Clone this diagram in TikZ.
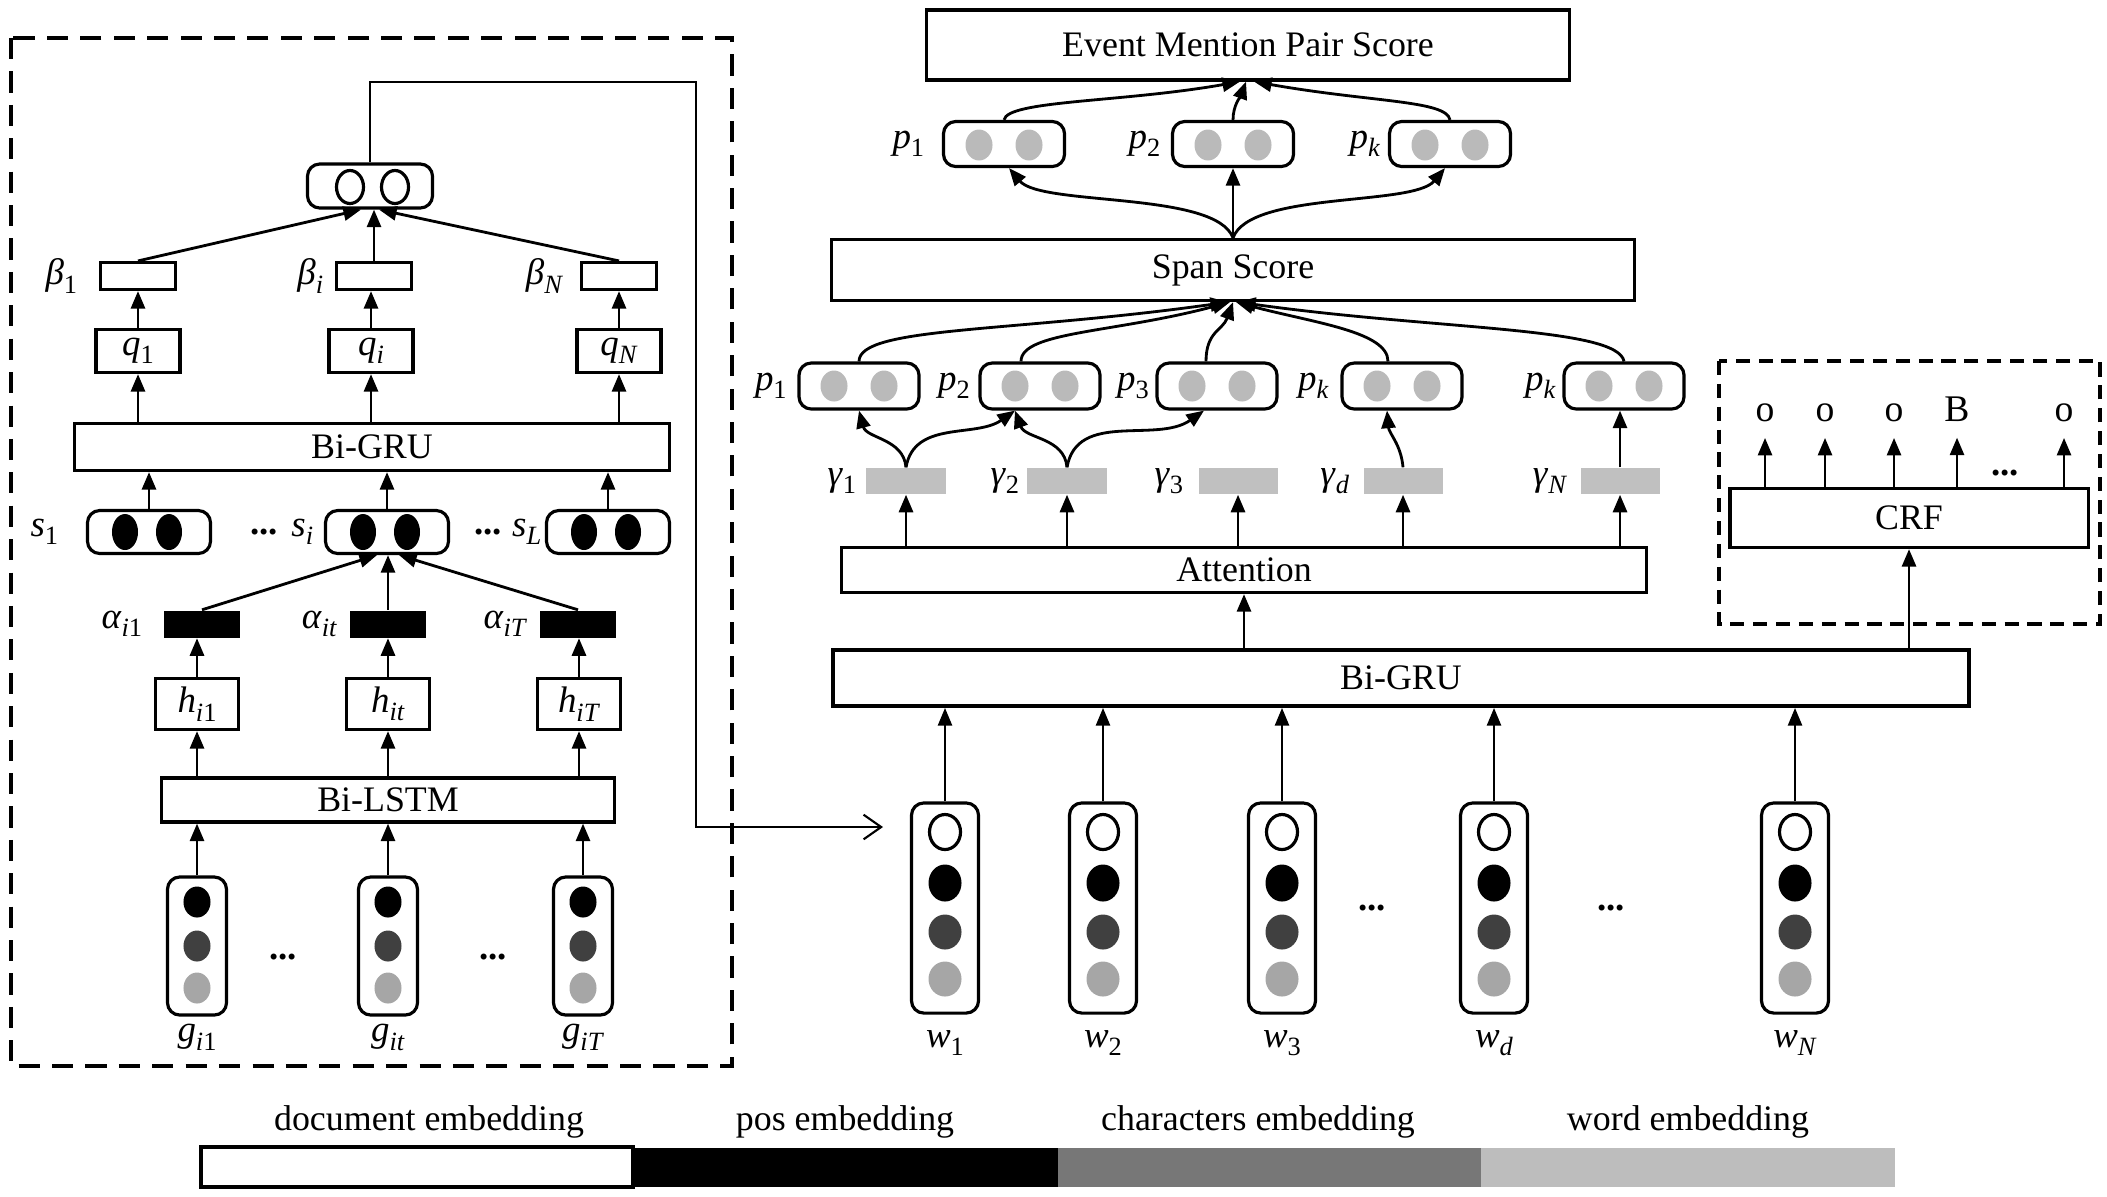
\documentclass[tikz,border=0pt]{standalone}
\usepackage{fontspec}
\setmainfont{Liberation Serif}
\usetikzlibrary{positioning,shapes.geometric,arrows.meta}

\definecolor{pgray}{RGB}{186,186,186}
\definecolor{ggray}{RGB}{192,192,192}
\definecolor{dgray}{RGB}{64,64,64}
\definecolor{lgray}{RGB}{166,166,166}
\definecolor{cgray}{RGB}{119,119,119}
\definecolor{wgray}{RGB}{189,189,189}

% italic symbol with a lowered index
\newcommand{\vsym}[2]{\textit{#1}\raisebox{-2.4pt}{\fontsize{7.5}{8}\selectfont#2}}

\tikzset{
  layer/.style={draw, line width=0.9pt, inner sep=0pt, font=\fontsize{10.2}{12}\selectfont},
  vec/.style={draw, line width=0.9pt, rounded corners=3.5pt, inner sep=0pt},
  blob/.style={ellipse, inner sep=0pt, minimum width=0.27cm, minimum height=0.31cm},
  wbox/.style={inner sep=0pt, minimum width=0.75cm, minimum height=0.27cm},
  lab/.style={inner sep=0pt, font=\fontsize{10.5}{12}\selectfont},
  arr/.style={-{Triangle[length=5pt,width=4pt]}, line width=0.8pt},
  feed/.style={-{Straight Barb[length=5pt,width=7pt]}, line width=0.6pt},
  dframe/.style={line width=0.9pt, dash pattern=on 6pt off 3.5pt},
  cframe/.style={line width=0.9pt, dash pattern=on 4pt off 2.5pt},
}

\begin{document}
\begin{tikzpicture}[x=0.01cm,y=0.01cm]
\useasboundingbox (0,0) rectangle (2107,-1196);

% ---------------- document encoder ----------------
\draw[dframe] (11,-38) rectangle (732,-1066);

% document vector
\node[vec, minimum width=1.25cm, minimum height=0.44cm] (dvec) at (370,-186) {};
\foreach \x [count=\i] in {350,395}
  \node[blob, draw, line width=0.9pt, minimum height=0.33cm] (dv\i) at (\x,-187) {};

% sentence weights
\foreach \n/\x/\s/\d in {1/138/1/0.21, i/374/\textit{i}/0.11, N/619/\textit{N}/0.16} {
  \node[layer, wbox] (beta\n) at (\x,-276) {};
  \node[lab, left=\d cm of beta\n] (lbeta\n) {\vsym{β}{\s}};
}

% sentence queries
\foreach \n/\x/\s in {1/138/1, i/371/\textit{i}, N/619/\textit{N}}
  \node[layer, minimum width=0.84cm, minimum height=0.43cm, font=\fontsize{10.5}{12}\selectfont] (q\n) at (\x,-351) {\vsym{q}{\s}};

\node[layer, minimum width=5.95cm, minimum height=0.47cm] (lgru) at (372,-447) {Bi-GRU};

% sentence vectors
\foreach \n/\x/\s/\d in {1/149/1/0.27, i/387/\textit{i}/0.1, L/608/\textit{L}/0.03} {
  \node[vec, minimum width=1.23cm, minimum height=0.43cm] (s\n) at (\x,-532) {};
  \node[blob, fill=black, minimum width=0.26cm, minimum height=0.36cm] (sa\n) at (\x-24,-532) {};
  \node[blob, fill=black, minimum width=0.26cm, minimum height=0.36cm] (sb\n) at (\x+20,-532) {};
  \node[lab, left=\d cm of s\n] (ls\n) {\vsym{s}{\s}};
}
\node[lab] (sdots1) at (264,-532) {\textbf{...}};
\node[lab] (sdots2) at (488,-532) {\textbf{...}};

\foreach \n in {1,i,L}
  \draw[arr] (s\n.north) -- (s\n.north |- lgru.south);
\foreach \n in {1,i,N} {
  \draw[arr] (q\n.south |- lgru.north) -- (q\n.south);
  \draw[arr] (q\n.north) -- (q\n.north |- beta\n.south);
}
\draw[arr] (beta1.north) -- ([xshift=-0.09cm]dvec.south);
\draw[arr] (betai.north) -- (betai.north |- dvec.south);
\draw[arr] (betaN.north) -- ([xshift=0.09cm]dvec.south);

% word weights
\foreach \n/\x/\s/\d in {1/202/\textit{i}1/0.21, t/388/\textit{it}/0.12, T/578/\textit{iT}/0.12} {
  \node[wbox, fill=black] (alpha\n) at (\x,-624) {};
  \node[lab, left=\d cm of alpha\n] (lalpha\n) {\vsym{α}{\s}};
}

\foreach \n/\x/\s in {1/197/\textit{i}1, t/388/\textit{it}, T/579/\textit{iT}}
  \node[layer, minimum width=0.83cm, minimum height=0.51cm, font=\fontsize{10.5}{12}\selectfont] (h\n) at (\x,-704) {\vsym{h}{\s}};

\node[layer, minimum width=4.53cm, minimum height=0.44cm] (lstm) at (388,-800) {Bi-LSTM};

% word vectors
\foreach \n/\x/\s in {1/197/\textit{i}1, t/388/\textit{it}, T/583/\textit{iT}} {
  \node[vec, minimum width=0.59cm, minimum height=1.38cm] (g\n) at (\x,-946) {};
  \node[blob, fill=black] (gk\n) at (\x,-902) {};
  \node[blob, fill=dgray] (gc\n) at (\x,-946) {};
  \node[blob, fill=lgray] (gw\n) at (\x,-988) {};
  \node[lab, below=0.07cm of g\n] (lg\n) {\vsym{g}{\s}};
}
\node[lab] (gdots1) at (283,-957) {\textbf{...}};
\node[lab] (gdots2) at (493,-957) {\textbf{...}};

\foreach \n in {1,t,T} {
  \draw[arr] (g\n.north) -- (g\n.north |- lstm.south);
  \draw[arr] (h\n.south |- lstm.north) -- (h\n.south);
  \draw[arr] (h\n.north) -- (h\n.north |- alpha\n.south);
}
\draw[arr] (alpha1.north) -- ([xshift=-0.1cm]si.south);
\draw[arr] (alphat.north) -- (alphat.north |- si.south);
\draw[arr] (alphaT.north) -- ([xshift=0.12cm]si.south);

% document vector fed to the words
\coordinate (docin) at (883,-827);
\draw[feed] (dvec.north) |- (696,-82) |- (docin);

% ---------------- span and pair scoring ----------------
\node[layer, minimum width=6.43cm, minimum height=0.70cm] (pair) at (1248,-45) {Event Mention Pair Score};

\foreach \n/\x/\s/\d in {1/1004/1/0.17, 2/1233/2/0.10, k/1450/\textit{k}/0.07} {
  \node[vec, minimum width=1.21cm, minimum height=0.45cm] (pp\n) at (\x,-144) {};
  \node[blob, fill=pgray] (ppa\n) at (\x-25,-145) {};
  \node[blob, fill=pgray] (ppb\n) at (\x+25,-145) {};
  \node[lab, left=\d cm of pp\n] (lpp\n) {\vsym{p}{\s}};
}

\node[layer, minimum width=8.02cm, minimum height=0.61cm] (span) at (1233,-270) {Span Score};

\foreach \n/\x/\s/\d in {a/859/1/0.10, b/1040/2/0.08, c/1217/3/0.06, d/1402/\textit{k}/0.11, e/1624/\textit{k}/0.06} {
  \node[vec, minimum width=1.2cm, minimum height=0.46cm] (p\n) at (\x,-386) {};
  \node[blob, fill=pgray] (pa\n) at (\x-25,-386) {};
  \node[blob, fill=pgray] (pb\n) at (\x+25,-386) {};
  \node[lab, left=\d cm of p\n] (lp\n) {\vsym{p}{\s}};
}

\foreach \n/\x/\s/\d in {1/906/1/0.09, 2/1067/2/0.07, 3/1238/3/0.14, d/1403/\textit{d}/0.13, N/1620/\textit{N}/0.12} {
  \node[wbox, fill=ggray, minimum width=0.79cm, minimum height=0.26cm] (gam\n) at (\x,-481) {};
  \node[lab, left=\d cm of gam\n] (lgam\n) {\vsym{γ}{\s}};
}

\node[layer, minimum width=8.04cm, minimum height=0.45cm] (att) at (1244,-570) {Attention};
\node[layer, line width=1.1pt, minimum width=11.36cm, minimum height=0.56cm] (rgru) at (1401,-678) {Bi-GRU};

% token vectors
\foreach \n/\x/\s in {1/945/1, 2/1103/2, 3/1282/3, d/1494/\textit{d}, N/1795/\textit{N}} {
  \node[vec, minimum width=0.67cm, minimum height=2.1cm] (w\n) at (\x,-908) {};
  \node[blob, draw, line width=0.9pt, fill=white, minimum width=0.31cm, minimum height=0.35cm] (wo\n) at (\x,-832) {};
  \node[blob, fill=black, minimum width=0.33cm, minimum height=0.37cm] (wk\n) at (\x,-883) {};
  \node[blob, fill=dgray, minimum width=0.33cm, minimum height=0.35cm] (wc\n) at (\x,-932) {};
  \node[blob, fill=lgray, minimum width=0.33cm, minimum height=0.35cm] (ww\n) at (\x,-979) {};
  \node[lab, below=0.15cm of w\n] (lw\n) {\vsym{w}{\s}};
  \draw[arr, line width=0.6pt] (w\n.north) -- (w\n.north |- rgru.south);
}
\node[lab] (wdots1) at (1372,-908) {\textbf{...}};
\node[lab] (wdots2) at (1611,-908) {\textbf{...}};

% tagging branch
\draw[cframe] (1719,-361) rectangle (2100,-624);
\node[layer, minimum width=3.58cm, minimum height=0.59cm] (crf) at (1909,-518) {CRF};
\foreach \t/\x [count=\i] in {o/1765, o/1825, o/1894, B/1957, o/2064} {
  \node[lab, font=\fontsize{10.7}{12}\selectfont, anchor=base, inner ysep=4.5pt] (tag\i) at (\x,-421) {\t};
  \draw[arr] (crf.north -| tag\i) -- (tag\i.south);
}
\node[lab] (tdots) at (2005,-473) {\textbf{...}};

\draw[arr] (att.south |- rgru.north) -- (att.south);
\draw[arr] (crf.south |- rgru.north) -- (crf.south);
\foreach \n in {1,2,3,d,N}
  \draw[arr] (gam\n.south |- att.north) -- (gam\n.south);

\draw[arr] (gam1.north) to[out=95,in=-75] (pa.south);
\draw[arr] (gam1.north) to[out=80,in=-145] ([xshift=-0.25cm]pb.south);
\draw[arr] (gam2.north) to[out=95,in=-70] ([xshift=-0.25cm]pb.south);
\draw[arr] (gam2.north) to[out=80,in=-145] ([xshift=-0.13cm]pc.south);
\draw[arr] (gamd.north) to[out=95,in=-85] ([xshift=-0.15cm]pd.south);
\draw[arr] (gamN.north) -- (gamN.north |- pe.south);

\draw[arr] (pa.north) to[out=90,in=188,out distance=0.35cm,in distance=2.2cm] ([xshift=-0.05cm]span.south);
\draw[arr] ([xshift=-0.19cm]pb.north) to[out=90,in=195,out distance=0.3cm,in distance=1.2cm] ([xshift=-0.03cm]span.south);
\draw[arr] ([xshift=-0.11cm]pc.north) to[out=90,in=250,out distance=0.3cm,in distance=0.3cm] (span.south);
\draw[arr] ([xshift=-0.14cm]pd.north) to[out=90,in=-15,out distance=0.3cm,in distance=0.8cm] ([xshift=0.03cm]span.south);
\draw[arr] (pe.north) to[out=100,in=-8,out distance=0.35cm,in distance=2cm] ([xshift=0.05cm]span.south);

\draw[arr] (span.north) to[out=110,in=-50,out distance=0.5cm,in distance=0.5cm] ([xshift=0.05cm]pp1.south);
\draw[arr] (span.north) -- (span.north |- pp2.south);
\draw[arr] (span.north) to[out=70,in=-130,out distance=0.5cm,in distance=0.5cm] ([xshift=-0.05cm]ppk.south);

\draw[arr] (pp1.north) to[out=80,in=190,out distance=0.2cm,in distance=1.2cm] ([xshift=-0.08cm]pair.south);
\draw[arr] (pp2.north) to[out=90,in=250,out distance=0.15cm,in distance=0.15cm] ([xshift=-0.02cm]pair.south);
\draw[arr] (ppk.north) to[out=100,in=-10,out distance=0.2cm,in distance=1.2cm] ([xshift=0.06cm]pair.south);

% ---------------- legend ----------------
\foreach \n/\x/\w/\c/\o/\t in {1/417/4.30/white/0.12/document embedding, 2/845/4.26/black/0/pos embedding, 3/1270/4.24/cgray/-0.12/characters embedding, 4/1688/4.13/wgray/0/word embedding} {
  \node[inner sep=0pt, fill=\c, minimum width=\w cm, minimum height=0.39cm] (leg\n) at (\x,-1167) {};
  \node[inner sep=0pt, font=\fontsize{10.2}{12}\selectfont, above=0.08cm of leg\n, xshift=\o cm] (legt\n) {\t};
}
\draw[line width=1pt] (leg1.south west) rectangle (leg1.north east);

\end{tikzpicture}
\end{document}
